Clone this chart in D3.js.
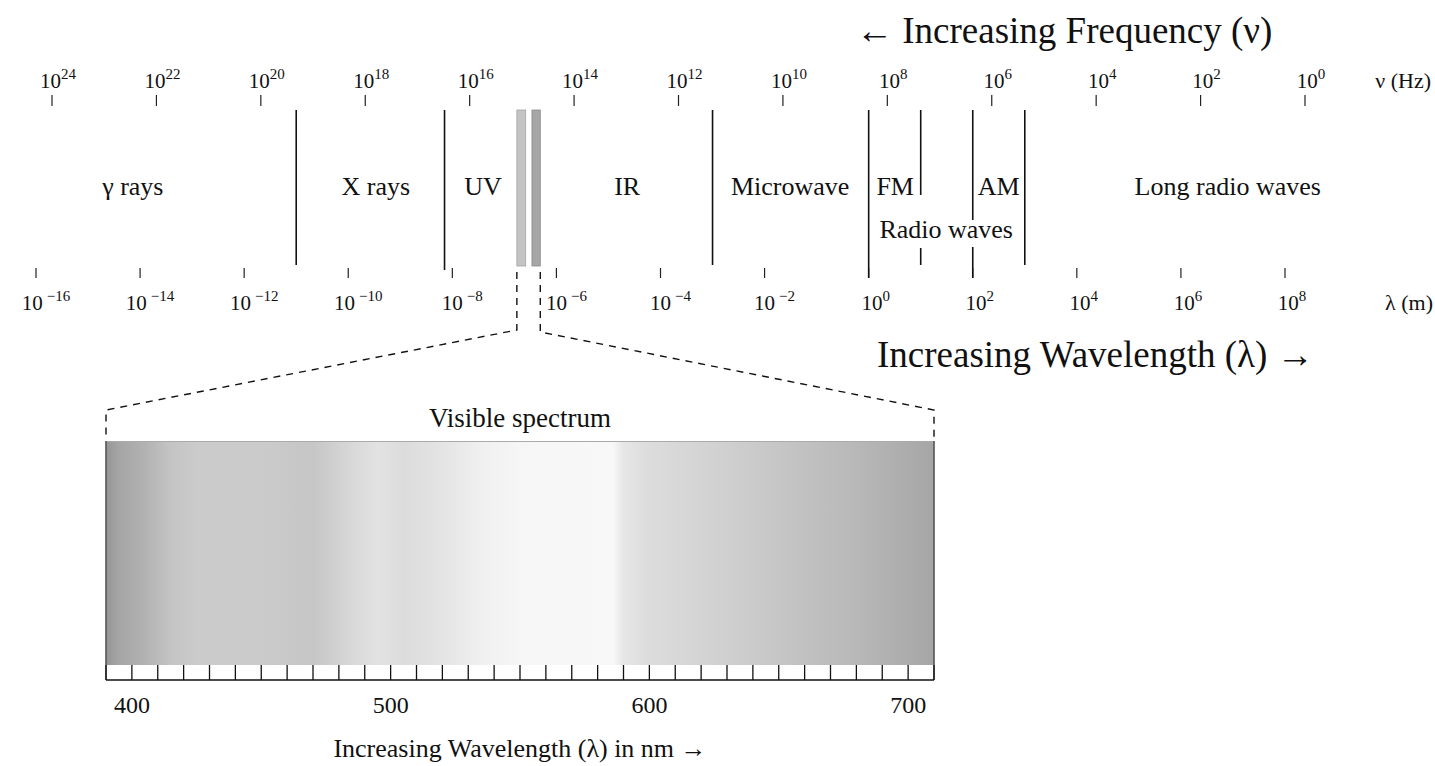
<!DOCTYPE html>
<html>
<head>
<meta charset="utf-8">
<script src="https://cdn.jsdelivr.net/npm/d3@7"></script>
<style>
  body { margin: 0; background: #fff; }
  text { font-family: "Liberation Serif", "DejaVu Serif", serif; fill: #111; }
</style>
</head>
<body>
<div id="chart"></div>
<script>
// frequency ticks, exponent of 10 (Hz)
const freqExp = [24, 22, 20, 18, 16, 14, 12, 10, 8, 6, 4, 2, 0];
// wavelength ticks, exponent of 10 (m)
const waveExp = [-16, -14, -12, -10, -8, -6, -4, -2, 0, 2, 4, 6, 8];
// band boundaries in log10(wavelength / m)
const bandEdges = [-11, -8.15, -3, 0, 1, 2, 3];
const bandNames = ["γ rays", "X rays", "UV", "IR", "Microwave", "FM", "AM", "Long radio waves"];
const bandCenters = [-14.14, -9.47, -7.41, -4.64, -1.51, 0.51, 2.5, 6.9];
// the narrow visible strip (two bars) in log10(wavelength / m)
const visibleBars = [[-6.76, -6.59], [-6.47, -6.31]];
const visibleBarFill = ["#c4c4c4", "#a6a6a6"];
// visible spectrum (nm), grey level of the print
const spectrumNm   = [390, 395, 405, 415, 425, 450, 470, 485, 495, 505, 520, 535, 550, 586, 590, 600, 620, 650, 680, 710];
const spectrumGray = [150, 165, 178, 196, 203, 203, 198, 216, 226, 220, 228, 240, 246, 248, 230, 220, 212, 198, 184, 166];
const nmLabels = [400, 500, 600, 700];

const W = 1435, H = 766;
const svg = d3.select('#chart').append('svg')
    .attr('width', W)
    .attr('height', H);

const xFreq = d3.scaleLinear().domain([24, 0]).range([52, 1305]);
const xWave = d3.scaleLinear().domain([-16, 8]).range([36, 1285]);
const xNm = d3.scaleLinear().domain([390, 710]).range([106, 934]);

// power-of-ten label
function powLabel(g, e) {
    const t = g.append('text').attr('text-anchor', 'middle').style('font-size', '21px');
    t.append('tspan').text('10');
    t.append('tspan')
        .attr('dy', -9)
        .attr('dx', e < 0 ? 4 : 0)
        .style('font-size', '15px')
        .text(e < 0 ? '\u2212' + (-e) : e);
}

// titles
svg.append('text')
    .attr('x', 856).attr('y', 43)
    .style('font-size', '37px')
    .text('\u2190 Increasing Frequency (\u03bd)');
svg.append('text')
    .attr('x', 877).attr('y', 367)
    .style('font-size', '37px')
    .text('Increasing Wavelength (\u03bb) \u2192');

// frequency axis
const fTicks = svg.append('g');
freqExp.forEach(e => {
    const g = fTicks.append('g').attr('transform', `translate(${xFreq(e)},0)`);
    g.append('line').attr('y1', 95).attr('y2', 106).attr('stroke', '#222').attr('stroke-width', 1.2);
    powLabel(g.append('g').attr('transform', 'translate(6,88)'), e);
});
svg.append('text')
    .attr('x', 1431).attr('y', 88)
    .attr('text-anchor', 'end')
    .style('font-size', '22px')
    .text('\u03bd (Hz)');

// wavelength axis
const wTicks = svg.append('g');
waveExp.forEach(e => {
    const g = wTicks.append('g').attr('transform', `translate(${xWave(e)},0)`);
    g.append('line').attr('y1', 268).attr('y2', 278).attr('stroke', '#222').attr('stroke-width', 1.2);
    powLabel(g.append('g').attr('transform', `translate(${e < 0 ? 10 : 7},310)`), e);
});
svg.append('text')
    .attr('x', 1433).attr('y', 310)
    .attr('text-anchor', 'end')
    .style('font-size', '22px')
    .text('\u03bb (m)');

// band boundaries; some lines have a gap for the "Radio waves" label
const edgeBottom = [265, 270, 265, 278, 265, 278, 265];
const edgeGap = [null, null, null, null, [195, 248], [220, 247], null];
bandEdges.forEach((e, i) => {
    const x = xWave(e);
    const segs = edgeGap[i] ? [[110, edgeGap[i][0]], [edgeGap[i][1], edgeBottom[i]]] : [[110, edgeBottom[i]]];
    segs.forEach(s => {
        svg.append('line')
            .attr('x1', x).attr('x2', x)
            .attr('y1', s[0]).attr('y2', s[1])
            .attr('stroke', '#111').attr('stroke-width', 1.6);
    });
});

// band labels
svg.append('g').selectAll('text')
    .data(bandNames)
    .join('text')
    .attr('x', (d, i) => xWave(bandCenters[i]))
    .attr('y', 195)
    .attr('text-anchor', 'middle')
    .style('font-size', '26px')
    .text(d => d);
svg.append('text')
    .attr('x', xWave(1.49)).attr('y', 238)
    .attr('text-anchor', 'middle')
    .style('font-size', '26px')
    .text('Radio waves');

// visible strip bars
visibleBars.forEach((b, i) => {
    svg.append('rect')
        .attr('x', xWave(b[0])).attr('y', 110)
        .attr('width', xWave(b[1]) - xWave(b[0]))
        .attr('height', 156)
        .attr('fill', visibleBarFill[i])
        .attr('stroke', d3.color(visibleBarFill[i]).darker(0.5))
        .attr('stroke-width', 0.8);
});

// dashed zoom lines
const xl = xWave(visibleBars[0][0]), xr = xWave(visibleBars[1][1]);
const zoomLines = [
    [[xl, 272], [xl, 330], [xNm(390), 410], [xNm(390), 440]],
    [[xr, 272], [xr, 332], [xNm(710), 410], [xNm(710), 440]]
];
zoomLines.forEach(p => {
    svg.append('path')
        .attr('d', d3.line()(p))
        .attr('fill', 'none')
        .attr('stroke', '#111')
        .attr('stroke-width', 1.4)
        .attr('stroke-dasharray', '7,6');
});

// visible spectrum
const grad = svg.append('defs').append('linearGradient')
    .attr('id', 'vis')
    .attr('x1', '0%').attr('x2', '100%');
grad.selectAll('stop')
    .data(spectrumNm)
    .join('stop')
    .attr('offset', d => ((d - 390) / 320 * 100) + '%')
    .attr('stop-color', (d, i) => d3.rgb(spectrumGray[i], spectrumGray[i], spectrumGray[i]));

svg.append('text')
    .attr('x', 520).attr('y', 427)
    .attr('text-anchor', 'middle')
    .style('font-size', '27px')
    .text('Visible spectrum');

svg.append('rect')
    .attr('x', xNm(390)).attr('y', 441)
    .attr('width', xNm(710) - xNm(390))
    .attr('height', 224)
    .attr('fill', 'url(#vis)');
svg.append('line')
    .attr('x1', xNm(390)).attr('x2', xNm(710))
    .attr('y1', 441.5).attr('y2', 441.5)
    .attr('stroke', '#aaa').attr('stroke-width', 1);
[390, 710].forEach(v => {
    svg.append('line')
        .attr('x1', xNm(v)).attr('x2', xNm(v))
        .attr('y1', 441).attr('y2', 680)
        .attr('stroke', '#555').attr('stroke-width', 1.6);
});

// ruler
const ruler = svg.append('g');
ruler.append('line')
    .attr('x1', xNm(390)).attr('x2', xNm(710))
    .attr('y1', 680).attr('y2', 680)
    .attr('stroke', '#111').attr('stroke-width', 1.6);
ruler.selectAll('line.t')
    .data(d3.range(390, 711, 10))
    .join('line')
    .attr('class', 't')
    .attr('x1', d => xNm(d)).attr('x2', d => xNm(d))
    .attr('y1', 665).attr('y2', 680)
    .attr('stroke', '#111').attr('stroke-width', 1.3);
ruler.selectAll('text')
    .data(nmLabels)
    .join('text')
    .attr('x', d => xNm(d)).attr('y', 713)
    .attr('text-anchor', 'middle')
    .style('font-size', '24px')
    .text(d => d);

svg.append('text')
    .attr('x', 520).attr('y', 757)
    .attr('text-anchor', 'middle')
    .style('font-size', '26px')
    .text('Increasing Wavelength (\u03bb) in nm \u2192');
</script>
</body>
</html>
